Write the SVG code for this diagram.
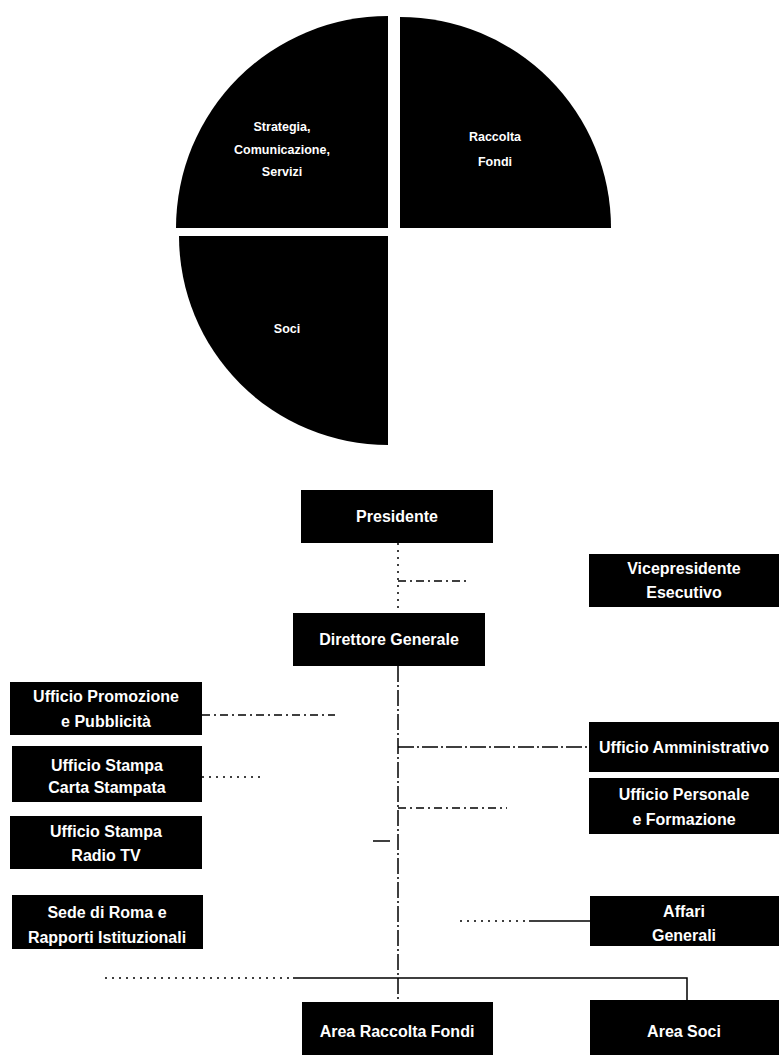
<svg xmlns="http://www.w3.org/2000/svg" width="779" height="1057" viewBox="0 0 779 1057">
<style>
.box{fill:#000}
.t{fill:#fff;font-family:"Liberation Sans",Arial,sans-serif;font-weight:bold;font-size:16px;text-anchor:middle}
.pt{fill:#fff;font-family:"Liberation Sans",Arial,sans-serif;font-weight:bold;font-size:12.5px;text-anchor:middle}
.c{fill:none;stroke:#000;stroke-width:1.5}
.dot{stroke-dasharray:2 5}
.dash{stroke-dasharray:8 4 2 4}
.dd{stroke-dasharray:16 3 2 3}
</style>
<rect width="779" height="1057" fill="#fff"/>
<g id="pie">
<g id="slice-strategia"><path class="box" d="M388,228 L176,228 A212,212 0 0 1 388,16 Z"/>
<text class="pt" x="282" y="131">Strategia,</text><text class="pt" x="282" y="154">Comunicazione,</text><text class="pt" x="282" y="176">Servizi</text></g>
<g id="slice-raccolta"><path class="box" d="M400,228 L400,17 A211,211 0 0 1 611,228 Z"/>
<text class="pt" x="495" y="141">Raccolta</text><text class="pt" x="495" y="166">Fondi</text></g>
<g id="slice-soci"><path class="box" d="M388,236 L388,445 A209,209 0 0 1 179,236 Z"/>
<text class="pt" x="287" y="333">Soci</text></g>
</g>
<g id="connectors">
<line class="c dot" x1="398" y1="543" x2="398" y2="613"/>
<line class="c dash" x1="398" y1="581" x2="470" y2="581"/>
<line class="c dd" x1="398" y1="666" x2="398" y2="1002"/>
<line class="c dd" x1="398" y1="747" x2="589" y2="747"/>
<line class="c dash" x1="398" y1="808" x2="507" y2="808"/>
<line class="c" x1="373" y1="841" x2="390" y2="841"/>
<line class="c dash" x1="202" y1="715" x2="335" y2="715"/>
<line class="c dot" x1="202" y1="777" x2="265" y2="777"/>
<line class="c" x1="529" y1="921" x2="590" y2="921"/>
<line class="c dot" x1="460" y1="921" x2="529" y2="921"/>
<polyline class="c" points="293,978 687,978 687,1000"/>
<line class="c dot" x1="105" y1="978" x2="293" y2="978"/>
</g>
<g id="presidente"><rect class="box" x="301" y="490" width="192" height="53"/><text class="t" x="397" y="522">Presidente</text></g>
<g id="vicepresidente"><rect class="box" x="589" y="554" width="190" height="53"/><text class="t" x="684" y="574">Vicepresidente</text><text class="t" x="684" y="598">Esecutivo</text></g>
<g id="direttore"><rect class="box" x="293" y="613" width="192" height="53"/><text class="t" x="389" y="645">Direttore Generale</text></g>
<g id="promozione"><rect class="box" x="10" y="682" width="192" height="53"/><text class="t" x="106" y="702">Ufficio Promozione</text><text class="t" x="106" y="727">e Pubblicità</text></g>
<g id="stampa-carta"><rect class="box" x="12" y="746" width="190" height="56"/><text class="t" x="107" y="771">Ufficio Stampa</text><text class="t" x="107" y="793">Carta Stampata</text></g>
<g id="stampa-radio"><rect class="box" x="10" y="816" width="192" height="53"/><text class="t" x="106" y="837">Ufficio Stampa</text><text class="t" x="106" y="861">Radio TV</text></g>
<g id="sede-roma"><rect class="box" x="12" y="895" width="191" height="54"/><text class="t" x="107" y="918">Sede di Roma e</text><text class="t" x="107" y="943">Rapporti Istituzionali</text></g>
<g id="amministrativo"><rect class="box" x="589" y="722" width="190" height="50"/><text class="t" x="684" y="753">Ufficio Amministrativo</text></g>
<g id="personale"><rect class="box" x="589" y="778" width="190" height="56"/><text class="t" x="684" y="800">Ufficio Personale</text><text class="t" x="684" y="825">e Formazione</text></g>
<g id="affari-generali"><rect class="box" x="590" y="896" width="189" height="50"/><text class="t" x="684" y="917">Affari</text><text class="t" x="684" y="941">Generali</text></g>
<g id="area-raccolta"><rect class="box" x="302" y="1002" width="191" height="53"/><text class="t" x="397" y="1037">Area Raccolta Fondi</text></g>
<g id="area-soci"><rect class="box" x="590" y="1000" width="189" height="55"/><text class="t" x="684" y="1037">Area Soci</text></g>
</svg>
